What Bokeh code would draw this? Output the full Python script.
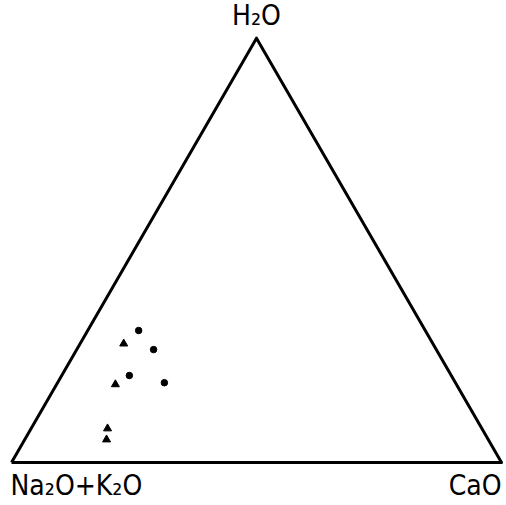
import math
from bokeh.plotting import figure
from bokeh.models import ColumnDataSource, Range1d
from bokeh.core.properties import value
from bokeh.embed import file_html
from bokeh.resources import INLINE

# Ternary compositions (fractions): Na2O+K2O, CaO, H2O
circle_alk = [0.585, 0.577, 0.657, 0.594]
circle_cao = [0.104, 0.157, 0.138, 0.218]
circle_h2o = [0.311, 0.266, 0.205, 0.188]

tri_alk = [0.631, 0.696, 0.764, 0.779]
tri_cao = [0.089, 0.120, 0.156, 0.167]
tri_h2o = [0.280, 0.184, 0.080, 0.054]

apex_labels = ["Na₂O+K₂O", "CaO", "H₂O"]

S3 = math.sqrt(3) / 2


def to_xy(alk, cao, h2o):
    xs, ys = [], []
    for a, c, h in zip(alk, cao, h2o):
        t = a + c + h
        xs.append((c + h / 2) / t)
        ys.append(h * S3 / t)
    return xs, ys


p = figure(width=506, height=505, output_backend="svg", toolbar_location=None,
           x_range=Range1d(-11 / 490, 495 / 490), y_range=Range1d(-43 / 490, 462 / 490),
           min_border=0, outline_line_color=None)
p.axis.visible = False
p.grid.visible = False
p.background_fill_color = "white"
p.border_fill_color = "white"

# triangle frame
p.line([0, 1, 0.5, 0], [0, 0, S3, 0], line_color="black", line_width=3, line_join="round")

cx, cy = to_xy(circle_alk, circle_cao, circle_h2o)
tx, ty = to_xy(tri_alk, tri_cao, tri_h2o)
p.scatter(cx, cy, marker="circle", size=6.5, fill_color="black", line_color="black")
p.scatter(tx, ty, marker="triangle", size=8, fill_color="black", line_color="black")

font = value("DejaVu Sans Condensed")
src = ColumnDataSource(dict(x=[-0.002, 1.0, 0.5], y=[-0.014, -0.014, S3 + 0.012],
                            t=apex_labels, a=["left", "right", "center"],
                            b=["top", "top", "bottom"]))
p.text(x="x", y="y", text="t", text_align="a", text_baseline="b", source=src,
       text_font=font, text_font_size="28px", text_color="black")

open("out.html", "w").write(file_html(p, INLINE))
